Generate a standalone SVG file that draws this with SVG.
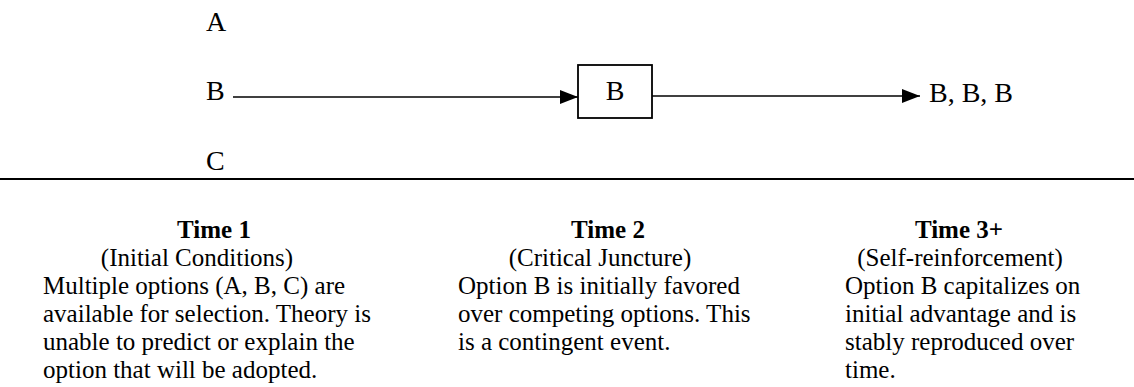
<svg xmlns="http://www.w3.org/2000/svg" width="1134" height="387" viewBox="0 0 1134 387">
<style>
text{font-family:"Liberation Serif","Times New Roman",serif;fill:#000}
.big{font-size:28px}
.h{font-size:25px;font-weight:bold;text-anchor:middle}
.s{font-size:25px;text-anchor:middle}
.b{font-size:25px}
.ln{stroke:#000;stroke-width:1.7;fill:none}
</style>
<defs>
<marker id="ah" viewBox="0 0 18 14" refX="18" refY="7" markerWidth="18" markerHeight="14" markerUnits="userSpaceOnUse" orient="auto">
<path d="M0,0 L18,7 L0,14 Z" fill="#000"/>
</marker>
</defs>
<rect width="1134" height="387" fill="#fff"/>
<g id="optA"><text class="big" x="206" y="31">A</text></g>
<g id="optB"><text class="big" x="206" y="100">B</text></g>
<g id="optC"><text class="big" x="206" y="170">C</text></g>
<g id="boxB">
<rect x="578" y="65" width="74" height="53" fill="#fff" stroke="#000" stroke-width="1.8"/>
<text class="big" x="615" y="100" text-anchor="middle">B</text>
</g>
<g id="result"><text class="big" x="929" y="102">B, B, B</text></g>
<g id="connectors">
<line class="ln" x1="233" y1="97" x2="578" y2="97" marker-end="url(#ah)"/>
<line class="ln" x1="652" y1="96" x2="920" y2="96" marker-end="url(#ah)"/>
</g>
<line x1="0" y1="179" x2="1134" y2="179" stroke="#000" stroke-width="2.2"/>
<g id="time1">
<text class="h" x="214" y="238">Time 1</text>
<text class="s" x="197" y="266">(Initial Conditions)</text>
<text class="b" x="43" y="294">Multiple options (A, B, C) are</text>
<text class="b" x="43" y="322">available for selection. Theory is</text>
<text class="b" x="43" y="350">unable to predict or explain the</text>
<text class="b" x="43" y="378">option that will be adopted.</text>
</g>
<g id="time2">
<text class="h" x="608" y="238">Time 2</text>
<text class="s" x="600" y="266">(Critical Juncture)</text>
<text class="b" x="458" y="294">Option B is initially favored</text>
<text class="b" x="458" y="322">over competing options. This</text>
<text class="b" x="458" y="350">is a contingent event.</text>
</g>
<g id="time3">
<text class="h" x="959" y="238">Time 3+</text>
<text class="s" x="960" y="266">(Self-reinforcement)</text>
<text class="b" x="845" y="294">Option B capitalizes on</text>
<text class="b" x="845" y="322">initial advantage and is</text>
<text class="b" x="845" y="350">stably reproduced over</text>
<text class="b" x="845" y="378">time.</text>
</g>
</svg>
